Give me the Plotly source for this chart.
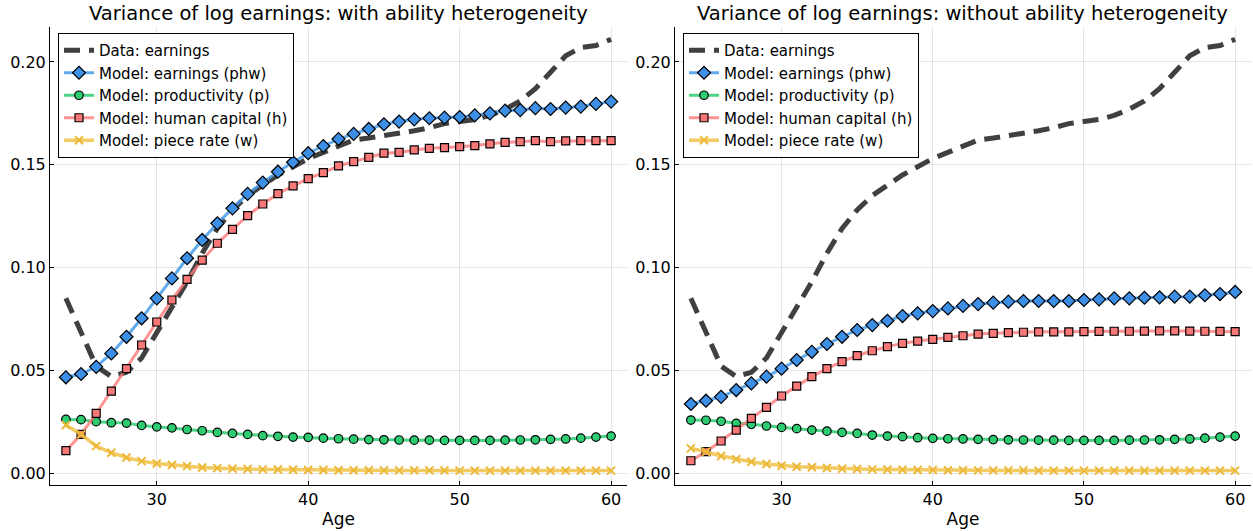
import plotly.graph_objects as go

ages = list(range(24, 61))

data_earn = [0.085, 0.068, 0.052, 0.047, 0.049, 0.056, 0.068, 0.080, 0.093, 0.107,
             0.119, 0.128, 0.135, 0.140, 0.145, 0.149, 0.153, 0.156, 0.159, 0.162,
             0.163, 0.164, 0.1655, 0.1665, 0.168, 0.170, 0.171, 0.172, 0.174, 0.177,
             0.181, 0.187, 0.195, 0.203, 0.207, 0.208, 0.211]

# with ability heterogeneity
L_phw = [0.0466, 0.0482, 0.0517, 0.0582, 0.0663, 0.0753, 0.0850, 0.0947, 0.1045, 0.1134,
         0.1215, 0.1288, 0.1358, 0.1413, 0.1466, 0.1512, 0.1556, 0.1591, 0.1625, 0.1650,
         0.1674, 0.1697, 0.1710, 0.1721, 0.1726, 0.1729, 0.1732, 0.1740, 0.1750, 0.1763,
         0.1766, 0.1775, 0.1771, 0.1778, 0.1783, 0.1796, 0.1807]
L_p = [0.0261, 0.0260, 0.0250, 0.0245, 0.0243, 0.0232, 0.0225, 0.0220, 0.0212, 0.0206,
       0.0198, 0.0193, 0.0188, 0.0182, 0.0179, 0.0175, 0.0174, 0.0170, 0.0167, 0.0165,
       0.0163, 0.0162, 0.0161, 0.0160, 0.0160, 0.0159, 0.0159, 0.0159, 0.0159, 0.0160,
       0.0161, 0.0162, 0.0164, 0.0166, 0.0170, 0.0175, 0.0180]
L_h = [0.0109, 0.0188, 0.0290, 0.0399, 0.0508, 0.0623, 0.0735, 0.0842, 0.0942, 0.1036,
       0.1118, 0.1186, 0.1252, 0.1309, 0.1359, 0.1397, 0.1432, 0.1462, 0.1494, 0.1515,
       0.1536, 0.1556, 0.1560, 0.1572, 0.1580, 0.1583, 0.1588, 0.1593, 0.1601, 0.1609,
       0.1612, 0.1617, 0.1612, 0.1616, 0.1617, 0.1617, 0.1617]
L_w = [0.0234, 0.0188, 0.0131, 0.0099, 0.0076, 0.0058, 0.0047, 0.0039, 0.0034, 0.0027,
       0.0024, 0.0021, 0.0020, 0.0018, 0.0017, 0.0016, 0.0015, 0.0015, 0.0014, 0.0014,
       0.0014, 0.0013, 0.0013, 0.0013, 0.0013, 0.0013, 0.0012, 0.0012, 0.0012, 0.0012,
       0.0012, 0.0012, 0.0012, 0.0012, 0.0012, 0.0012, 0.0012]

# without ability heterogeneity
R_phw = [0.0336, 0.0352, 0.0371, 0.0404, 0.0436, 0.0469, 0.0508, 0.0550, 0.0590, 0.0628,
         0.0663, 0.0696, 0.0720, 0.0741, 0.0764, 0.0777, 0.0788, 0.0801, 0.0813, 0.0822,
         0.0829, 0.0834, 0.0837, 0.0837, 0.0837, 0.0837, 0.0842, 0.0845, 0.0850, 0.0850,
         0.0853, 0.0855, 0.0858, 0.0858, 0.0865, 0.0871, 0.0881]
R_p = [0.0258, 0.0257, 0.0252, 0.0242, 0.0237, 0.0229, 0.0222, 0.0216, 0.0209, 0.0204,
       0.0198, 0.0193, 0.0185, 0.0180, 0.0177, 0.0172, 0.0169, 0.0167, 0.0166, 0.0164,
       0.0163, 0.0162, 0.0161, 0.0160, 0.0160, 0.0159, 0.0159, 0.0159, 0.0159, 0.0160,
       0.0161, 0.0162, 0.0164, 0.0166, 0.0170, 0.0175, 0.0180]
R_h = [0.0060, 0.0104, 0.0156, 0.0209, 0.0266, 0.0320, 0.0375, 0.0423, 0.0469, 0.0508,
       0.0542, 0.0571, 0.0595, 0.0615, 0.0631, 0.0642, 0.0650, 0.0660, 0.0668, 0.0676,
       0.0680, 0.0683, 0.0685, 0.0687, 0.0687, 0.0687, 0.0688, 0.0689, 0.0690, 0.0690,
       0.0691, 0.0692, 0.0692, 0.0691, 0.0690, 0.0689, 0.0688]
R_w = [0.0120, 0.0104, 0.0083, 0.0067, 0.0055, 0.0044, 0.0036, 0.0031, 0.0028, 0.0025,
       0.0021, 0.0020, 0.0018, 0.0017, 0.0016, 0.0015, 0.0015, 0.0014, 0.0014, 0.0013,
       0.0013, 0.0013, 0.0013, 0.0012, 0.0012, 0.0012, 0.0012, 0.0012, 0.0012, 0.0012,
       0.0012, 0.0012, 0.0012, 0.0012, 0.0012, 0.0012, 0.0012]

titles = ["Variance of log earnings: with ability heterogeneity",
          "Variance of log earnings: without ability heterogeneity"]
names = ["Data: earnings", "Model: earnings (phw)", "Model: productivity (p)",
         "Model: human capital (h)", "Model: piece rate (w)"]
x_ticks = [30, 40, 50, 60]
y_ticks = [0.0, 0.05, 0.10, 0.15, 0.20]

FONT = "DejaVu Sans"
fig = go.Figure()

panels = [(L_phw, L_p, L_h, L_w), (R_phw, R_p, R_h, R_w)]
for i, (phw, p, h, w) in enumerate(panels):
    xa = "x" if i == 0 else "x2"
    ya = "y" if i == 0 else "y2"
    lg = "legend" if i == 0 else "legend2"
    common = dict(x=ages, xaxis=xa, yaxis=ya, legend=lg)
    fig.add_trace(go.Scatter(y=data_earn, name=names[0], mode="lines",
                             line=dict(color="rgba(64,64,64,1)", width=5, dash="16px,9px"),
                             legendgroup=f"d{i}", **common))
    fig.add_trace(go.Scatter(y=phw, name=names[1], mode="lines+markers",
                             line=dict(color="rgba(70,155,235,0.85)", width=3),
                             marker=dict(symbol="diamond", size=10, color="#3d8fe6",
                                         line=dict(color="black", width=1.2)),
                             legendgroup=f"a{i}", **common))
    fig.add_trace(go.Scatter(y=p, name=names[2], mode="lines+markers",
                             line=dict(color="rgba(46,204,113,0.85)", width=3),
                             marker=dict(symbol="circle", size=8.5, color="#2ecc71",
                                         line=dict(color="black", width=1.2)),
                             legendgroup=f"b{i}", **common))
    fig.add_trace(go.Scatter(y=h, name=names[3], mode="lines+markers",
                             line=dict(color="rgba(255,120,120,0.8)", width=3),
                             marker=dict(symbol="square", size=8, color="#f87878",
                                         line=dict(color="black", width=1.2)),
                             legendgroup=f"c{i}", **common))
    fig.add_trace(go.Scatter(y=w, name=names[4], mode="lines+markers",
                             line=dict(color="rgba(240,190,60,0.8)", width=3.5),
                             marker=dict(symbol="x-thin", size=8, color="#ecb838",
                                         line=dict(color="#ecb838", width=2)),
                             legendgroup=f"e{i}", **common))

axis_common = dict(showline=True, linecolor="black", linewidth=1, mirror=False,
                   showgrid=True, gridcolor="rgba(0,0,0,0.1)", gridwidth=1,
                   ticks="inside", ticklen=4, tickcolor="black", zeroline=False,
                   tickfont=dict(family=FONT, size=16, color="black"))

xdom = [[50 / 1253, 627 / 1253], [675 / 1253, 1251 / 1253]]
ydom = [1 - 485 / 531, 1 - 27 / 531]

legend_common = dict(xanchor="left", yanchor="top", bordercolor="black", borderwidth=1,
                     bgcolor="white", font=dict(family=FONT, size=15), tracegroupgap=0,
                     itemwidth=30)

fig.update_layout(
    width=1253, height=531,
    margin=dict(l=0, r=0, t=0, b=0),
    paper_bgcolor="white", plot_bgcolor="white",
    font=dict(family=FONT, color="black"),
    showlegend=True,
    xaxis=dict(domain=xdom[0], range=[22.95, 61.05], tickvals=x_ticks, anchor="y",
               title=dict(text="Age", font=dict(family=FONT, size=17), standoff=4),
               **axis_common),
    yaxis=dict(domain=ydom, range=[-0.0058, 0.217], tickvals=y_ticks, tickformat=".2f",
               anchor="x", **axis_common),
    xaxis2=dict(domain=xdom[1], range=[22.95, 61.05], tickvals=x_ticks, anchor="y2",
                title=dict(text="Age", font=dict(family=FONT, size=17), standoff=4),
                **axis_common),
    yaxis2=dict(domain=ydom, range=[-0.0058, 0.217], tickvals=y_ticks, tickformat=".2f",
                anchor="x2", **axis_common),
    legend=dict(x=58 / 1253, y=1 - 33 / 531, **legend_common),
    legend2=dict(x=683 / 1253, y=1 - 33 / 531, **legend_common),
    annotations=[
        dict(text=titles[0], x=(xdom[0][0] + xdom[0][1]) / 2, y=1 - 13 / 531,
             xref="paper", yref="paper", showarrow=False, xanchor="center", yanchor="middle",
             font=dict(family=FONT, size=19.5, color="black")),
        dict(text=titles[1], x=(xdom[1][0] + xdom[1][1]) / 2, y=1 - 13 / 531,
             xref="paper", yref="paper", showarrow=False, xanchor="center", yanchor="middle",
             font=dict(family=FONT, size=19.5, color="black")),
    ],
)

fig.write_html("out.html")
